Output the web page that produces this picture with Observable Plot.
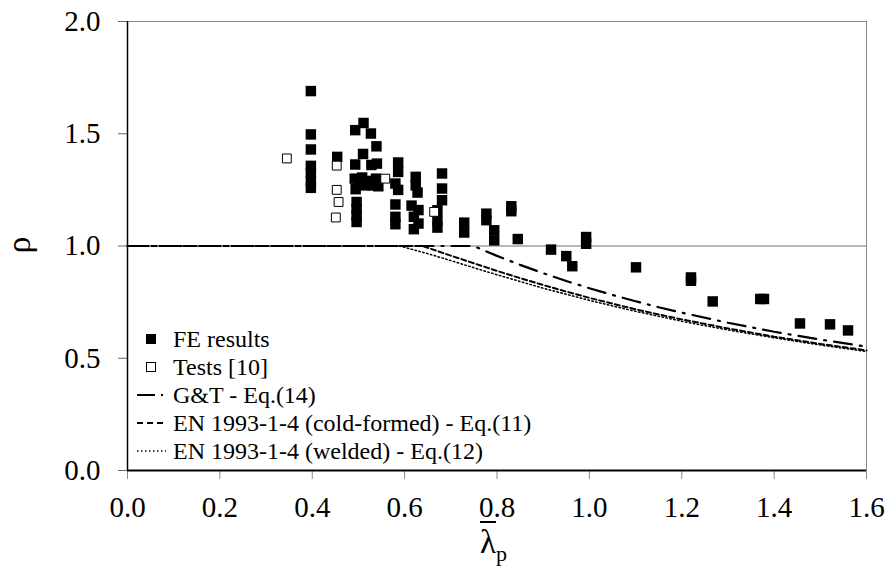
<!DOCTYPE html>
<html>
<head>
<meta charset="utf-8">
<script src="https://cdn.jsdelivr.net/npm/d3@7"></script>
<script src="https://cdn.jsdelivr.net/npm/@observablehq/plot@0.6"></script>
<style>
  body { margin: 0; background: white; }
  #chart { width: 890px; height: 578px; }
  #chart svg, #chart svg text { font-family: "Liberation Serif", "Times New Roman", Times, serif !important; }
</style>
</head>
<body>
<div id="chart"></div>
<script>
// ---- data ----
const xTicks = [0, 0.2, 0.4, 0.6, 0.8, 1.0, 1.2, 1.4, 1.6];
const yTicks = [0, 0.5, 1.0, 1.5, 2.0];

// FE results (filled squares)
const feLambda = [0.397,0.397,0.397,0.397,0.397,0.397,0.397,
  0.454,0.493,0.511,0.527,0.539,0.510,0.493,0.528,0.540,
  0.492,0.500,0.508,0.515,0.522,0.530,0.538,0.543,0.494,
  0.496,0.496,0.496,0.496,
  0.586,0.586,0.580,0.586,0.580,0.580,0.580,
  0.624,0.624,0.628,0.615,0.630,0.620,0.630,0.620,
  0.681,0.681,0.681,0.671,0.671,0.671,
  0.729,0.729,0.777,0.777,0.794,0.794,0.831,0.831,0.845,
  0.917,0.950,0.963,0.993,0.993,
  1.101,1.220,1.220,1.267,1.370,1.378,1.456,1.521,1.560];
const feRho = [1.690,1.497,1.430,1.357,1.325,1.290,1.259,
  1.397,1.516,1.548,1.501,1.444,1.410,1.363,1.361,1.367,
  1.300,1.280,1.305,1.270,1.290,1.270,1.300,1.266,1.253,
  1.196,1.165,1.135,1.107,
  1.372,1.330,1.278,1.250,1.185,1.130,1.097,
  1.308,1.270,1.238,1.180,1.160,1.130,1.100,1.075,
  1.323,1.256,1.204,1.159,1.115,1.082,
  1.104,1.060,1.144,1.115,1.070,1.025,1.177,1.155,1.031,
  0.984,0.955,0.910,1.040,1.010,
  0.905,0.860,0.845,0.753,0.764,0.764,0.655,0.651,0.624];

// Tests [10] (open squares)
const testLambda = [0.345, 0.453, 0.453, 0.457, 0.451, 0.558, 0.664];
const testRho    = [1.390, 1.358, 1.250, 1.196, 1.127, 1.300, 1.152];

// G&T - Eq.(14)
const gtLambda = [0, 0.749, 0.8, 0.85, 0.9, 0.95, 1.0, 1.05, 1.1, 1.15, 1.2, 1.3, 1.4, 1.5, 1.6];
const gtRho    = [1, 1, 0.956, 0.916, 0.879, 0.844, 0.812, 0.782, 0.754, 0.727, 0.703, 0.658, 0.618, 0.583, 0.552];

// EN 1993-1-4 (cold-formed) - Eq.(11)
const cfLambda = [0, 0.638, 0.65, 0.7, 0.75, 0.8, 0.85, 0.9, 0.95, 1.0, 1.05, 1.1, 1.15, 1.2, 1.3, 1.4, 1.5, 1.6];
const cfRho    = [1, 1, 0.992, 0.957, 0.923, 0.889, 0.857, 0.826, 0.797, 0.769, 0.743, 0.718, 0.695, 0.673, 0.633, 0.596, 0.564, 0.535];

// EN 1993-1-4 (welded) - Eq.(12)
const wLambda = [0, 0.589, 0.6, 0.65, 0.7, 0.75, 0.8, 0.85, 0.9, 0.95, 1.0, 1.05, 1.1, 1.15, 1.2, 1.3, 1.4, 1.5, 1.6];
const wRho    = [1, 1, 0.994, 0.966, 0.935, 0.903, 0.872, 0.842, 0.812, 0.785, 0.758, 0.733, 0.709, 0.687, 0.665, 0.626, 0.591, 0.559, 0.530];

const legendLabels = ["FE results", "Tests [10]", "G&T - Eq.(14)",
  "EN 1993-1-4 (cold-formed) - Eq.(11)", "EN 1993-1-4 (welded) - Eq.(12)"];

// ---- tables ----
const fe = feLambda.map((x, i) => ({x, y: feRho[i]}));
const tests = testLambda.map((x, i) => ({x, y: testRho[i]}));
const gt = gtLambda.map((x, i) => ({x, y: gtRho[i]}));
const cf = cfLambda.map((x, i) => ({x, y: cfRho[i]}));
const wd = wLambda.map((x, i) => ({x, y: wRho[i]}));

const FONT = "Liberation Serif, Times New Roman, serif";

const chart = Plot.plot({
  width: 890,
  height: 578,
  marginLeft: 127,
  marginRight: 24,
  marginTop: 21,
  marginBottom: 108,
  style: {fontFamily: FONT, background: "white", color: "black"},
  x: {domain: [0, 1.6]},
  y: {domain: [0, 2]},
  marks: [
    Plot.ruleY([2], {stroke: "#888", strokeWidth: 1}),
    Plot.ruleX([1.6], {stroke: "#888", strokeWidth: 1}),
    Plot.ruleY([1], {stroke: "#a0a0a0", strokeWidth: 1.5}),
    Plot.axisX({ticks: xTicks, tickSize: 9, color: "#888", tickFormat: () => "", label: null}),
    Plot.axisX({ticks: xTicks, tickSize: 0, tickPadding: 26, fontSize: 29, tickFormat: d3.format(".1f"), label: null}),
    Plot.axisY({ticks: yTicks, tickSize: 9, color: "#666", tickFormat: () => "", label: null}),
    Plot.axisY({ticks: yTicks, tickSize: 0, tickPadding: 27, fontSize: 29, tickFormat: d3.format(".1f"), label: null}),
    Plot.line(wd, {x: "x", y: "y", stroke: "black", strokeWidth: 1.5, strokeDasharray: "1.5,2.5"}),
    Plot.line(cf, {x: "x", y: "y", stroke: "black", strokeWidth: 2, strokeDasharray: "5,3"}),
    Plot.line(gt, {x: "x", y: "y", stroke: "black", strokeWidth: 2.2, strokeDasharray: "18,8,2,8"}),
    Plot.dot(fe, {x: "x", y: "y", symbol: "square", r: 5.9, fill: "black", stroke: "none"}),
    Plot.dot(tests, {x: "x", y: "y", symbol: "square", r: 5, fill: "white", stroke: "black", strokeWidth: 1}),
    Plot.ruleX([0], {stroke: "black", strokeWidth: 1.5}),
    Plot.ruleY([0], {stroke: "black", strokeWidth: 2})
  ]
});

document.getElementById("chart").appendChild(chart);

// ---- axis titles and legend ----
const svg = d3.select(chart);
svg.append("text")
  .attr("transform", "translate(30,245) rotate(-90)")
  .attr("text-anchor", "middle")
  .attr("font-size", 34)
  .attr("fill", "black")
  .text("ρ");

const xl = svg.append("g").attr("text-anchor", "start");
xl.append("text")
  .attr("x", 480).attr("y", 553)
  .attr("font-size", 33).attr("fill", "black")
  .text("λ");
xl.append("text")
  .attr("x", 496).attr("y", 561)
  .attr("font-size", 22).attr("fill", "black")
  .text("p");
xl.append("line")
  .attr("x1", 480).attr("x2", 496).attr("y1", 522).attr("y2", 522)
  .attr("stroke", "black").attr("stroke-width", 2);

const lg = svg.append("g").attr("font-size", 24).attr("text-anchor", "start");
const rowY = [339, 367, 395, 423, 451];
legendLabels.forEach((t, i) => {
  lg.append("text").attr("x", 173).attr("y", rowY[i]).attr("dy", "0.35em")
    .attr("fill", "black").text(t);
});
lg.append("rect").attr("x", 146).attr("y", rowY[0] - 5).attr("width", 10).attr("height", 10).attr("fill", "black");
lg.append("rect").attr("x", 146.5).attr("y", rowY[1] - 4.5).attr("width", 9).attr("height", 9)
  .attr("fill", "white").attr("stroke", "black").attr("stroke-width", 1);
lg.append("line").attr("x1", 137).attr("x2", 167).attr("y1", rowY[2]).attr("y2", rowY[2])
  .attr("stroke", "black").attr("stroke-width", 2).attr("stroke-dasharray", "18,6,2,8");
lg.append("line").attr("x1", 137).attr("x2", 166).attr("y1", rowY[3]).attr("y2", rowY[3])
  .attr("stroke", "black").attr("stroke-width", 2).attr("stroke-dasharray", "6,4");
lg.append("line").attr("x1", 137).attr("x2", 166).attr("y1", rowY[4]).attr("y2", rowY[4])
  .attr("stroke", "black").attr("stroke-width", 1.5).attr("stroke-dasharray", "1.5,2.5");
</script>
</body>
</html>
